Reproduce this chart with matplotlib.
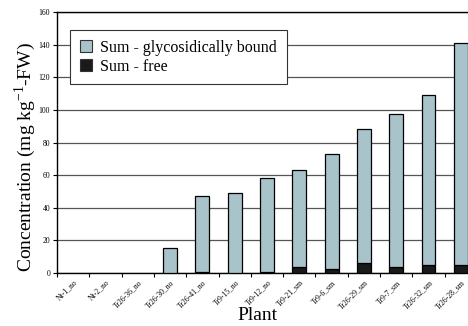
import numpy as np
import matplotlib
matplotlib.use("Agg")
import matplotlib.pyplot as plt
from matplotlib.patches import Patch

plants = ["Nt-1_no", "Nt-2_no", "Tr26-36_no", "Tr26-30_no", "Tr26-41_no",
          "Tr9-15_no", "Tr9-12_no", "Tr9-21_sm", "Tr9-6_sm", "Tr26-29_sm",
          "Tr9-7_sm", "Tr26-32_sm", "Tr26-28_sm"]
total = [0, 0, 0, 15.1, 47.2, 48.9, 58.4, 63.3, 73.0, 88.1, 97.5, 109.0, 140.8]
free = [0, 0, 0, 0.0, 0.5, 0.3, 0.5, 3.5, 2.7, 6.3, 3.6, 4.9, 4.9]
bound = [t - f for t, f in zip(total, free)]

bound_color = "#a8c3c9"
free_color = "#1a1a1a"

plt.rcParams["font.family"] = ["Liberation Serif", "DejaVu Serif"]

fig = plt.figure(figsize=(4.68, 3.26), dpi=100)
ax = fig.add_axes([57 / 468, 53 / 326, 420 / 468, 261 / 326])

x = np.arange(len(plants))
w = 0.43
# no outline where a bar has nothing to show
lw_free = [0.9 if f > 0 else 0 for f in free]
lw_bound = [0.9 if b > 0 else 0 for b in bound]
ax.bar(x, free, w, color=free_color, edgecolor="black", linewidth=lw_free,
       zorder=3)
ax.bar(x, bound, w, bottom=free, color=bound_color, edgecolor="black",
       linewidth=lw_bound, zorder=3)

ax.set_xlim(-0.5, len(plants) - 0.5)
ax.set_ylim(0, 160)
ax.set_yticks(np.arange(0, 161, 20))
ax.tick_params(axis="y", labelsize=5.5, length=3, width=0.8, pad=2)
ax.yaxis.grid(True, color="#555555", linewidth=0.9, zorder=0)
ax.set_axisbelow(True)

ax.set_xticks(x)
ax.set_xticklabels(plants, rotation=45, ha="right", rotation_mode="anchor",
                   fontsize=5.5)
ax.tick_params(axis="x", length=0, pad=4)
ax.set_xticks(np.arange(-0.5, len(plants), 1), minor=True)
ax.tick_params(axis="x", which="minor", length=3, width=0.8)

for s in ["left", "bottom", "top"]:
    ax.spines[s].set_linewidth(1.0)
ax.spines["right"].set_visible(False)

handles = [Patch(facecolor=bound_color, edgecolor="#333333", linewidth=0.8),
           Patch(facecolor=free_color, edgecolor="#333333", linewidth=0.8)]
labels = ["Sum - glycosidically bound", "Sum - free"]
leg = ax.legend(handles, labels, loc="upper left",
                bbox_to_anchor=(13 / 420, 243 / 261), borderaxespad=0,
                fontsize=11.5, frameon=True, fancybox=False,
                edgecolor="#333333", handlelength=0.8, handleheight=0.8,
                handletextpad=0.5, borderpad=0.6, labelspacing=0.2,
                framealpha=1)
leg.get_frame().set_linewidth(0.8)

fig.text(25 / 468, 1 - 157 / 326, r"Concentration (mg kg$^{\mathregular{-1}}$-FW)",
         rotation=90, ha="center", va="center", fontsize=14)
fig.text(257 / 468, 2 / 326, "Plant", ha="center", va="bottom", fontsize=14)

fig.savefig("out.png", dpi=100)
